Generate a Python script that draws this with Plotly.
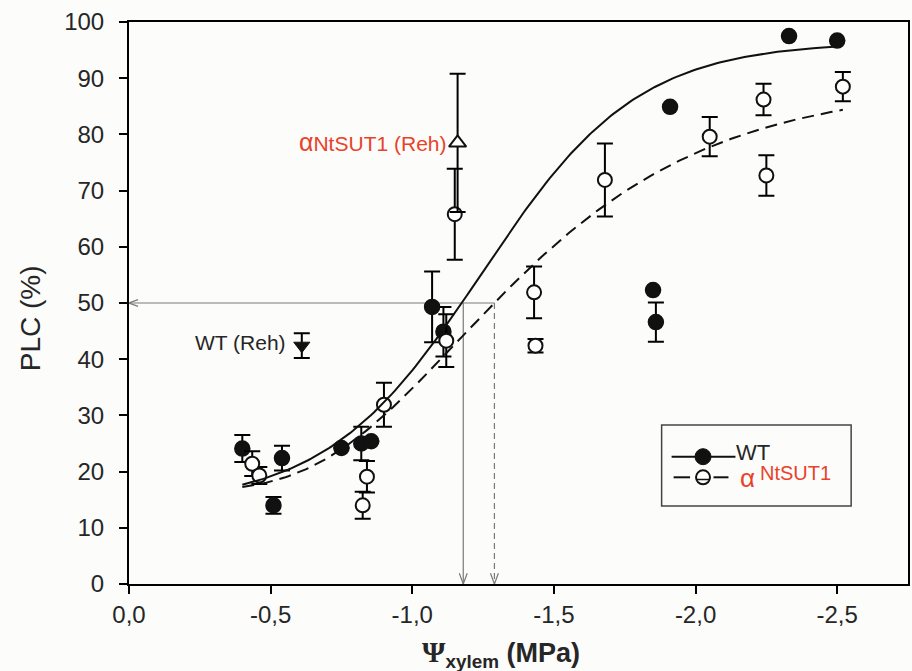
import numpy as np
import plotly.graph_objects as go

# ---- measured data: xylem water potential (MPa) vs. percent loss of conductivity ----
wt_psi = [-0.40, -0.54, -0.51, -0.75, -0.82, -0.855, -1.07, -1.11, -1.85, -1.86, -1.91, -2.33, -2.50]
wt_plc = [24.1, 22.4, 14.0, 24.2, 25.0, 25.4, 49.3, 44.9, 52.3, 46.6, 84.9, 97.5, 96.7]
wt_err = [2.4, 2.2, 1.5, None, 3.0, None, 6.3, 4.4, None, 3.5, None, None, None]

sut_psi = [-0.435, -0.46, -0.84, -0.825, -0.90, -1.12, -1.15, -1.43, -1.435, -1.68, -2.05, -2.24, -2.25, -2.52]
sut_plc = [21.4, 19.3, 19.1, 14.0, 31.9, 43.3, 65.8, 51.9, 42.4, 71.9, 79.6, 86.2, 72.7, 88.5]
sut_err = [2.2, 1.5, 2.8, 2.4, 3.9, 4.7, 8.1, 4.6, 1.2, 6.5, 3.5, 2.8, 3.6, 2.6]

# rehydrated plants
wt_reh_psi = [-0.61]
wt_reh_plc = [42.4]
wt_reh_err = [2.2]
sut_reh_psi = [-1.16]
sut_reh_plc = [78.5]
sut_reh_err = [12.3]

# psi at 50 % loss of conductivity
p50_wt = -1.18
p50_sut = -1.29

x_ticks = [0.0, -0.5, -1.0, -1.5, -2.0, -2.5]
x_tick_labels = ["0,0", "-0,5", "-1,0", "-1,5", "-2,0", "-2,5"]

# fitted vulnerability curves (coefficients of the regressions)
wt_fit = dict(y0=14.0, a=82.5, x0=1.245, b=0.275)     # logistic
sut_fit = dict(y0=16.5, a=72.5, x0=1.16, b=0.50)      # Gompertz


def logistic(p, y0, a, x0, b):
    return y0 + a / (1.0 + np.exp(-(p - x0) / b))


def gompertz(p, y0, a, x0, b):
    return y0 + a * np.exp(-np.exp(-(p - x0) / b))


p_wt = np.linspace(0.40, 2.50, 200)
p_sut = np.linspace(0.40, 2.52, 200)

RED = "#e8432a"
TXT = "#262626"
GRAY = "#7a7a7a"
FONT = "Liberation Sans, Arial, sans-serif"

fig = go.Figure()

# reference lines at PLC 50 %
fig.add_trace(go.Scatter(x=[0, p50_sut], y=[50, 50], mode="lines",
                         line=dict(color=GRAY, width=1.2), hoverinfo="skip", showlegend=False))
fig.add_trace(go.Scatter(x=[p50_wt, p50_wt], y=[50, 0], mode="lines",
                         line=dict(color=GRAY, width=1.2), hoverinfo="skip", showlegend=False))
fig.add_trace(go.Scatter(x=[p50_sut, p50_sut], y=[50, 0], mode="lines",
                         line=dict(color=GRAY, width=1.2, dash="6px,4px"), hoverinfo="skip", showlegend=False))
# open arrow heads
for xp in (p50_wt, p50_sut):
    fig.add_trace(go.Scatter(x=[xp - 0.014, xp, xp + 0.014], y=[1.9, 0, 1.9], mode="lines",
                             line=dict(color=GRAY, width=1.2), hoverinfo="skip", showlegend=False))
fig.add_trace(go.Scatter(x=[-0.032, 0, -0.032], y=[50.6, 50, 49.4], mode="lines",
                         line=dict(color=GRAY, width=1.2), hoverinfo="skip", showlegend=False))

err_style = dict(type="data", symmetric=True, color="black", thickness=2, width=8)

fig.add_trace(go.Scatter(
    x=wt_psi, y=wt_plc, mode="markers", name="WT",
    error_y=dict(array=wt_err, **err_style),
    marker=dict(symbol="circle", size=15, color="#111111", line=dict(color="#111111", width=1.5)),
    showlegend=False))
fig.add_trace(go.Scatter(
    x=wt_reh_psi, y=wt_reh_plc, mode="markers", name="WT (Reh)",
    error_y=dict(array=wt_reh_err, **err_style),
    marker=dict(symbol="triangle-down", size=14, color="#111111", line=dict(color="#111111", width=1)),
    showlegend=False))
fig.add_trace(go.Scatter(
    x=sut_psi, y=sut_plc, mode="markers", name="αNtSUT1",
    error_y=dict(array=sut_err, **err_style),
    marker=dict(symbol="circle", size=14, color="white", line=dict(color="#111111", width=2)),
    showlegend=False))
fig.add_trace(go.Scatter(
    x=sut_reh_psi, y=sut_reh_plc, mode="markers", name="αNtSUT1 (Reh)",
    error_y=dict(array=sut_reh_err, **err_style),
    marker=dict(symbol="triangle-up", size=15, color="white", line=dict(color="#111111", width=2)),
    showlegend=False))

# fitted curves
fig.add_trace(go.Scatter(x=-p_wt, y=logistic(p_wt, **wt_fit), mode="lines",
                         line=dict(color="#111111", width=2), hoverinfo="skip", showlegend=False))
fig.add_trace(go.Scatter(x=-p_sut, y=gompertz(p_sut, **sut_fit), mode="lines",
                         line=dict(color="#111111", width=2, dash="12px,7px"), hoverinfo="skip", showlegend=False))

# ---- legend box drawn in paper coordinates ----
L, R, T, B = 129, 910, 22, 584


def px(x):
    return (x - L) / (R - L)


def py(y):
    return (B - y) / (B - T)


shapes = [
    dict(type="rect", xref="paper", yref="paper", x0=px(663), x1=px(853), y0=py(506), y1=py(425),
         line=dict(color="#444444", width=1.5), fillcolor="rgba(0,0,0,0)"),
    dict(type="line", xref="paper", yref="paper", x0=px(673), x1=px(737), y0=py(456.7), y1=py(456.7),
         line=dict(color="#111111", width=2)),
    dict(type="circle", xref="paper", yref="paper", xsizemode="pixel", ysizemode="pixel",
         xanchor=px(704.5), yanchor=py(456.7), x0=-8, x1=8, y0=-8, y1=8,
         fillcolor="#111111", line=dict(color="#111111", width=1)),
    dict(type="line", xref="paper", yref="paper", x0=px(675), x1=px(691.5), y0=py(477.3), y1=py(477.3),
         line=dict(color="#111111", width=2)),
    dict(type="line", xref="paper", yref="paper", x0=px(715), x1=px(730), y0=py(477.3), y1=py(477.3),
         line=dict(color="#111111", width=2)),
    dict(type="circle", xref="paper", yref="paper", xsizemode="pixel", ysizemode="pixel",
         xanchor=px(704.5), yanchor=py(477.3), x0=-7, x1=7, y0=-7, y1=7,
         fillcolor="white", line=dict(color="#111111", width=2)),
    dict(type="line", xref="paper", yref="paper", x0=px(697.5), x1=px(711.5), y0=py(479.5), y1=py(479.5),
         line=dict(color="#111111", width=1.5)),
]

annotations = [
    # legend labels
    dict(xref="paper", yref="paper", x=px(736), y=py(452.5), xanchor="left", yanchor="middle",
         text="WT", showarrow=False, font=dict(family=FONT, size=22, color=TXT)),
    dict(xref="paper", yref="paper", x=px(740), y=py(478), xanchor="left", yanchor="middle",
         text="α", showarrow=False, font=dict(family=FONT, size=26, color=RED)),
    dict(xref="paper", yref="paper", x=px(760), y=py(472.5), xanchor="left", yanchor="middle",
         text="NtSUT1", showarrow=False, font=dict(family=FONT, size=20, color=RED)),
    # rehydrated labels
    dict(x=sut_reh_psi[0], y=sut_reh_plc[0], xanchor="right", yanchor="middle", xshift=-10, yshift=1,
         text="<span style='font-size:25px'>α</span>NtSUT1 (Reh)", showarrow=False,
         font=dict(family=FONT, size=21, color=RED)),
    dict(x=wt_reh_psi[0], y=wt_reh_plc[0], xanchor="right", yanchor="middle", xshift=-14, yshift=3,
         text="WT (Reh)", showarrow=False, font=dict(family=FONT, size=21, color=TXT)),
    # axis titles
    dict(xref="paper", yref="paper", x=px(30), y=py(318), xanchor="center", yanchor="middle",
         text="PLC (%)", textangle=-90, showarrow=False, font=dict(family=FONT, size=28, color=TXT)),
    dict(xref="paper", yref="paper", x=px(502), y=py(653), xanchor="center", yanchor="middle",
         text="<b><span style='font-family:Liberation Serif, serif; font-size:30px'>Ψ</span>"
              "<sub>xylem</sub> (MPa)</b>",
         showarrow=False, font=dict(family=FONT, size=27, color=TXT)),
]

axis_common = dict(
    showline=True, linecolor="black", linewidth=2, mirror=True,
    ticks="outside", ticklen=8, tickwidth=2, tickcolor="black",
    showgrid=False, zeroline=False,
    tickfont=dict(family=FONT, size=24, color=TXT),
)

fig.update_layout(
    width=912, height=671,
    margin=dict(l=L, r=912 - R, t=T, b=671 - B),
    paper_bgcolor="#fcfcfa", plot_bgcolor="#fcfcfa",
    showlegend=False,
    xaxis=dict(range=[0, -2.75], tickvals=x_ticks, ticktext=x_tick_labels,
               ticklabelstandoff=0, **axis_common),
    yaxis=dict(range=[0, 100], dtick=10, tick0=0, ticklabelstandoff=10, **axis_common),
    shapes=shapes,
    annotations=annotations,
)

fig.write_html("out.html")
